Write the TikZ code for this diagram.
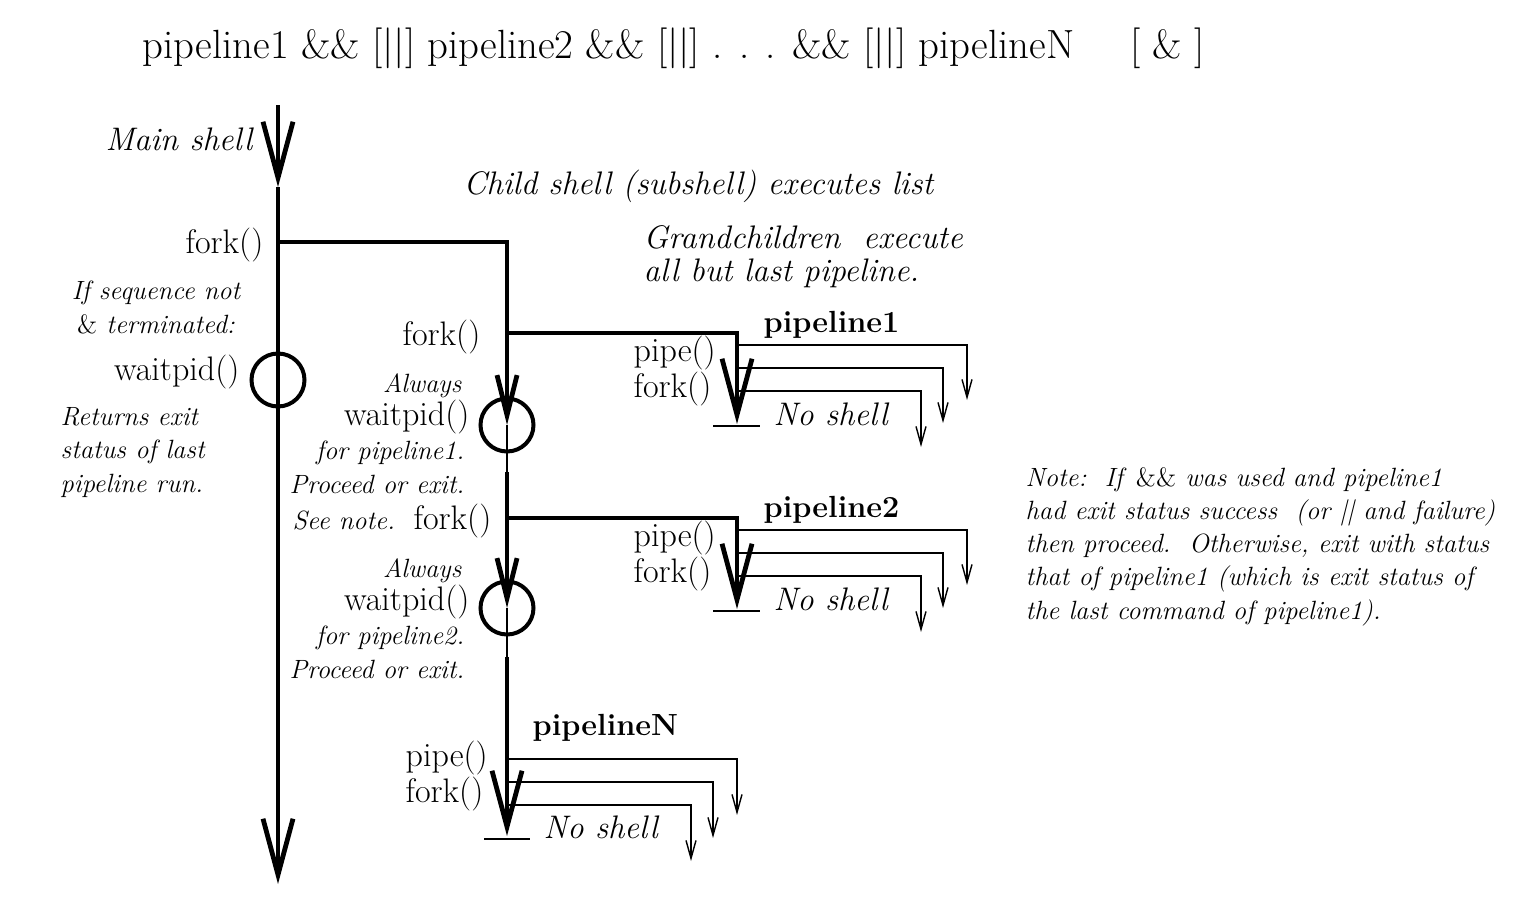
\documentclass[tikz,border=0pt]{standalone}
\usetikzlibrary{arrows.meta}

\tikzset{every picture/.style={line width=0.7pt}}
\tikzset{
  thickline/.style={line width=2.4pt},
  thinline/.style={line width=0.7pt},
  waitcircle/.style={line width=2pt},
  bigarrow/.style={-{Straight Barb[length=28pt,width=15pt,sharp]}},
  midarrow/.style={-{Straight Barb[length=20pt,width=10pt,sharp]}},
  smallarrow/.style={-{Straight Barb[length=9pt,width=5pt]}},
  titlefont/.style={font=\fontsize{20.4}{23}\selectfont},
  callfont/.style={font=\fontsize{17}{15.5}\selectfont},
  boldfont/.style={font=\fontsize{15.3}{17}\selectfont\bfseries},
  bigital/.style={font=\fontsize{16.3}{16.5}\selectfont\itshape},
  smallital/.style={font=\fontsize{13.2}{16.6}\selectfont\itshape},
}

\begin{document}
\begin{tikzpicture}[x=0.5pt,y=0.5pt,yscale=-1,xscale=1]
		\useasboundingbox (0,0) rectangle (1540,900);
		
		%Coordinates of main shell
		\coordinate (mtop) at (278,105);
		\coordinate (mhead) at (278,187);
		\coordinate (mend) at (278,884);
		\coordinate (fork0) at (278,242);
		\coordinate (wait0) at (278,380);
		%Coordinates of child shell
		\coordinate (c0) at (507,242);
		\coordinate (fork1) at (507,333);
		\coordinate (wait1) at (507,425);
		\coordinate (c1) at (507,472);
		\coordinate (fork2) at (507,518);
		\coordinate (wait2) at (507,608);
		\coordinate (c2) at (507,657);
		\coordinate (gN) at (507,747);
		\coordinate (cend) at (507,836);
		%Coordinates of grandchildren
		\coordinate (g1) at (737,333);
		\coordinate (g1end) at (737,424);
		\coordinate (g2) at (737,518);
		\coordinate (g2end) at (737,609);
		
		%Main shell line
		\draw [thickline, bigarrow] (mtop) -- (mhead) ;
		\draw [thickline, bigarrow] (mhead) -- (mend) ;
		\draw [waitcircle] (wait0) circle (26.5) ;
		
		%Child shell line
		\draw [thickline, midarrow] (fork0) -- (c0) -- (wait1) ;
		\draw [thinline] (wait1) -- (c1) ;
		\draw [thickline, midarrow] (c1) -- (wait2) ;
		\draw [thinline] (wait2) -- (c2) ;
		\draw [thickline, bigarrow] (c2) -- (cend) ;
		\draw [thinline] (cend) ++(-23,3) -- ++(46,0) ;
		\draw [waitcircle] (wait1) circle (26.5) ;
		\draw [waitcircle] (wait2) circle (26.5) ;
		
		%Pipeline1
		\draw [thickline, bigarrow] (fork1) -- (g1) -- (g1end) ;
		\draw [thinline] (g1end) ++(-24,2) -- ++(47,0) ;
		\draw [thinline, smallarrow] (g1) ++(2,12) -| ++(228,55) ;
		\draw [thinline, smallarrow] (g1) ++(2,35) -| ++(204,55) ;
		\draw [thinline, smallarrow] (g1) ++(2,58) -| ++(182,56) ;
		
		%Pipeline2
		\draw [thickline, bigarrow] (fork2) -- (g2) -- (g2end) ;
		\draw [thinline] (g2end) ++(-24,2) -- ++(47,0) ;
		\draw [thinline, smallarrow] (g2) ++(2,12) -| ++(228,55) ;
		\draw [thinline, smallarrow] (g2) ++(2,35) -| ++(204,55) ;
		\draw [thinline, smallarrow] (g2) ++(2,58) -| ++(182,56) ;
		
		%PipelineN
		\draw [thinline, smallarrow] (gN) ++(2,12) -| ++(228,56) ;
		\draw [thinline, smallarrow] (gN) ++(2,35) -| ++(204,56) ;
		\draw [thinline, smallarrow] (gN) ++(2,58) -| ++(182,56) ;
		
		% Text Node
		\draw (142,58) node (title) [anchor=base west][inner sep=0pt] [titlefont] {pipeline1 \&\& [||] pipeline2 \&\& [||] . . . \&\& [||] pipelineN\hspace{28pt}[ \& ]};
		% Text Node
		\draw (253,150) node (mainshell) [anchor=base east][inner sep=0pt] [bigital] {Main shell};
		% Text Node
		\draw (463,194) node (childshell) [anchor=base west][inner sep=0pt] [bigital] {Child shell (subshell) executes list};
		% Text Node
		\draw (264,253) node (forkmain) [anchor=base east][inner sep=0pt] [callfont] {fork()};
		% Text Node
		\draw (643,281) node (grandch) [anchor=base west][inner sep=0pt] [bigital] [align=left] {Grandchildren\ \ execute\\all but last pipeline.};
		% Text Node
		\draw (156,333) node (ifseq) [anchor=base][inner sep=0pt] [smallital] [align=center] {If sequence not\\\textup{\&} terminated:};
		% Text Node
		\draw (240,380) node (waitmain) [anchor=base east][inner sep=0pt] [callfont] {waitpid()};
		% Text Node
		\draw (60,492) node (returns) [anchor=base west][inner sep=0pt] [smallital] [align=left] {Returns exit\\status of last\\pipeline run.};
		
		% Text Node
		\draw (481,345) node (forkchild1) [anchor=base east][inner sep=0pt] [callfont] {fork()};
		% Text Node
		\draw (462,392) node (always1) [anchor=base east][inner sep=0pt] [smallital] {Always};
		% Text Node
		\draw (470,425) node (waitchild1) [anchor=base east][inner sep=0pt] [callfont] {waitpid()};
		% Text Node
		\draw (465,493) node (proceed1) [anchor=base east][inner sep=0pt] [smallital] [align=right] {for pipeline1.\\Proceed or exit.};
		% Text Node
		\draw (292,529) node (seenote) [anchor=base west][inner sep=0pt] [smallital] {See note.};
		% Text Node
		\draw (492,529) node (forkchild2) [anchor=base east][inner sep=0pt] [callfont] {fork()};
		% Text Node
		\draw (462,577) node (always2) [anchor=base east][inner sep=0pt] [smallital] {Always};
		% Text Node
		\draw (470,610) node (waitchild2) [anchor=base east][inner sep=0pt] [callfont] {waitpid()};
		% Text Node
		\draw (465,678) node (proceed2) [anchor=base east][inner sep=0pt] [smallital] [align=right] {for pipeline2.\\Proceed or exit.};
		
		% Text Node
		\draw (763,332) node (pipename1) [anchor=base west][inner sep=0pt] [boldfont] {pipeline1};
		% Text Node
		\draw (633,397) node (pipefork1) [anchor=base west][inner sep=0pt] [callfont] [align=left] {pipe()\\fork()};
		% Text Node
		\draw (773,425) node (noshell1) [anchor=base west][inner sep=0pt] [bigital] {No shell};
		% Text Node
		\draw (763,517) node (pipename2) [anchor=base west][inner sep=0pt] [boldfont] {pipeline2};
		% Text Node
		\draw (633,582) node (pipefork2) [anchor=base west][inner sep=0pt] [callfont] [align=left] {pipe()\\fork()};
		% Text Node
		\draw (773,610) node (noshell2) [anchor=base west][inner sep=0pt] [bigital] {No shell};
		% Text Node
		\draw (532,735) node (pipenameN) [anchor=base west][inner sep=0pt] [boldfont] {pipelineN};
		% Text Node
		\draw (405,802) node (pipeforkN) [anchor=base west][inner sep=0pt] [callfont] [align=left] {pipe()\\fork()};
		% Text Node
		\draw (543,838) node (noshellN) [anchor=base west][inner sep=0pt] [bigital] {No shell};
		
		% Text Node
		\draw (1025,619) node (note) [anchor=base west][inner sep=0pt] [smallital] [align=left] {Note:\ \ If \textup{\&\&} was used and pipeline1\\had exit status success\ \ (or || and failure)\\then proceed.\ \ Otherwise, exit with status\\that of pipeline1 (which is exit status of\\the last command of pipeline1).};
		
	\end{tikzpicture}
\end{document}
